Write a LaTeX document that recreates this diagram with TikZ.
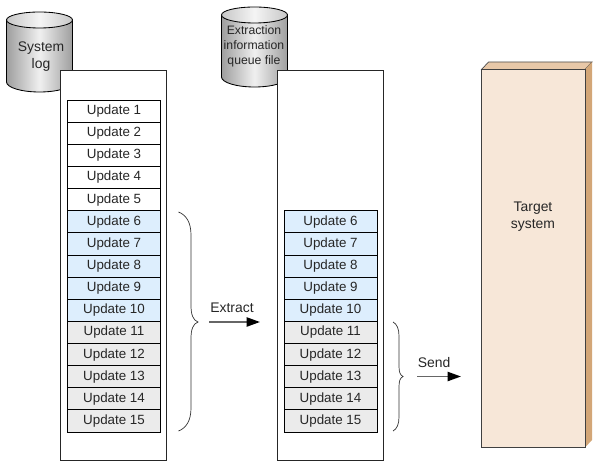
\documentclass[tikz,border=0pt]{standalone}
\usepackage{fontspec}
\setmainfont{Liberation Sans}
\usetikzlibrary{arrows.meta}
\definecolor{bluerow}{HTML}{DDEEFD}
\definecolor{grayrow}{HTML}{EBEBEB}
\definecolor{targetfront}{HTML}{F7E7D8}
\definecolor{targettop}{HTML}{E8C8A8}
\definecolor{targetside}{HTML}{D3A677}
\tikzset{
  panel/.style={draw=black!85, fill=white, line width=0.6pt},
  row/.style={draw=black, line width=0.6pt, minimum width=66.2pt, minimum height=15.75pt, inner sep=0pt, text=black!85},
  drum/.style={draw=black, line width=0.6pt, left color=black!38, right color=black!38, middle color=black!6},
  drumlid/.style={draw=black, line width=0.6pt, left color=black!22, right color=black!22, middle color=black!4},
  caption/.style={align=center, text=black!85, font=\fontsize{9.9}{12}\selectfont},
  flow/.style={draw=black!60, line width=1.3pt, -{Triangle[black,length=9.5pt,width=6.5pt]}},
  curly/.style={draw=black!80, line width=0.5pt},
}
\begin{document}
\begin{tikzpicture}[x=0.025cm, y=-0.025cm, every node/.style={font=\fontsize{9.5}{11.5}\selectfont}]
	\useasboundingbox (0,0) rectangle (596,464);
	
	% drums
	\foreach \cx/\cy in {39.5/20, 254.5/15} {
		\path[drum] (\cx-33,\cy) -- (\cx-33,\cy+62) arc[start angle=180, end angle=360, x radius=33, y radius=-10] -- (\cx+33,\cy) -- cycle;
		\path[drumlid] (\cx,\cy) ellipse[x radius=33, y radius=8];
	}
	\node[caption] (logtext) at (41,57) {System\\log};
	\node[caption, font=\fontsize{8.7}{10.7}\selectfont] (queuetext) at (254,46) {Extraction\\information\\queue file};
	
	% panels
	\node[panel, minimum width=75.4pt, minimum height=277.4pt, inner sep=0pt] (leftpanel) at (113,265) {};
	\node[panel, minimum width=75.4pt, minimum height=277.4pt, inner sep=0pt] (midpanel) at (330,265) {};
	
	% rows
	\foreach \n in {1,...,5} \node[row, fill=white] (a\n) at (114,89+22.13*\n) {Update \n};
	\foreach \n in {6,...,10} \node[row, fill=bluerow] (a\n) at (114,89+22.13*\n) {Update \n};
	\foreach \n in {11,...,15} \node[row, fill=grayrow] (a\n) at (114,89+22.13*\n) {Update \n};
	\foreach \n in {6,...,10} \node[row, fill=bluerow] (b\n) at (330.5,89+22.13*\n) {Update \n};
	\foreach \n in {11,...,15} \node[row, fill=grayrow] (b\n) at (330.5,89+22.13*\n) {Update \n};
	
	% braces
	\draw[curly] (178.5,212) .. controls (186,215) and (191,222) .. (191,235) -- (191,305) .. controls (191,315) and (193,320) .. (198,322) .. controls (193,324) and (191,329) .. (191,339) -- (191,408) .. controls (191,421) and (186,428) .. (178.5,431);
	\draw[curly] (393,322) .. controls (397,324) and (399,329) .. (399,336) -- (399,366) .. controls (399,372) and (400,375) .. (403,376.5) .. controls (400,378) and (399,381) .. (399,387) -- (399,417) .. controls (399,424) and (397,429) .. (393,431);
	
	% arrows
	\coordinate (extractfrom) at (209,322);
	\coordinate (extractto) at (260,322);
	\coordinate (sendfrom) at (417,376.5);
	\coordinate (sendto) at (461,376.5);
	\draw[flow] (extractfrom) -- (extractto);
	\draw[flow] (sendfrom) -- (sendto);
	\node[caption] (extractlabel) at (232,308) {Extract};
	\node[caption] (sendlabel) at (434,363) {Send};
	
	% target
	\fill[targettop, draw=black!70, line width=0.5pt] (481.5,69.5) -- (488.5,62) -- (592,62) -- (585,69.5) -- cycle;
	\fill[targetside] (585,69.5) -- (592,62) -- (592,440) -- (585,447.5) -- cycle;
	\node[fill=targetfront, draw=black!75, line width=0.6pt, minimum width=73.6pt, minimum height=268.6pt, inner sep=0pt] (target) at (533.25,258.5) {};
	\node[caption] (targettext) at (533,217) {Target\\system};
\end{tikzpicture}
\end{document}
